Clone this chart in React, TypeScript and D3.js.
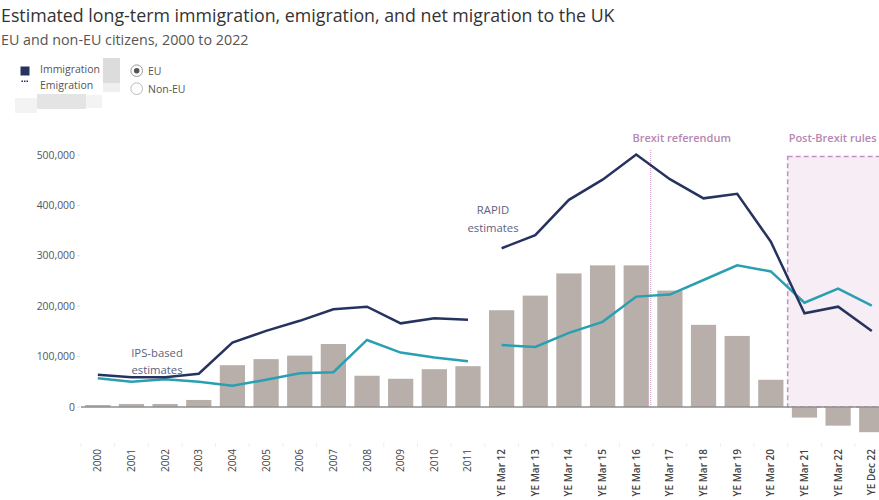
import React from "react";
import * as d3 from "d3";

const categories = [
  "2000", "2001", "2002", "2003", "2004", "2005", "2006", "2007", "2008", "2009", "2010", "2011",
  "YE Mar 12", "YE Mar 13", "YE Mar 14", "YE Mar 15", "YE Mar 16", "YE Mar 17", "YE Mar 18",
  "YE Mar 19", "YE Mar 20", "YE Mar 21", "YE Mar 22", "YE Dec 22",
];
const netMigration = [
  4000, 6000, 6000, 14000, 83000, 95000, 102000, 125000, 62000, 56000, 75000, 81000,
  192000, 221000, 265000, 281000, 281000, 231000, 163000, 141000, 54000, -21000, -37000, -50000,
];
const immigration: (number | null)[] = [
  64000, 59000, 59000, 66000, 128000, 151000, 171000, 194000, 199000, 166000, 176000, 173000,
  315000, 341000, 411000, 451000, 501000, 452000, 414000, 423000, 328000, 186000, 199000, 151000,
];
const emigration: (number | null)[] = [
  57000, 50000, 55000, 50000, 42000, 54000, 67000, 69000, 133000, 108000, 98000, 91000,
  123000, 119000, 147000, 169000, 219000, 223000, 252000, 281000, 269000, 207000, 235000, 201000,
];
const yTicks = [0, 100000, 200000, 300000, 400000, 500000];
const ipsCount = 12; // first 12 points are IPS-based, the rest RAPID

const W = 879;
const H = 500;

export default function App() {
  const x = d3
    .scaleBand<string>()
    .domain(categories)
    .range([81, 81 + 33.65 * categories.length])
    .paddingInner(0.25)
    .paddingOuter(0.125);
  const y = d3.scaleLinear().domain([0, 500000]).range([407, 155]);
  const cx = (c: string) => (x(c) as number) + x.bandwidth() / 2;

  const line = d3
    .line<[string, number | null]>()
    .defined((d) => d[1] != null)
    .x((d) => cx(d[0]))
    .y((d) => y(d[1] as number));

  const seg = (vals: (number | null)[]) => {
    const pts: [string, number | null][] = categories.map((c, i) => [c, vals[i]]);
    return [pts.slice(0, ipsCount), pts.slice(ipsCount)];
  };

  const fmt = d3.format(",");
  const font = "'Open Sans', 'Noto Sans', sans-serif";
  const step = x.step();
  const postStart = (x("YE Mar 21") as number) - (step - x.bandwidth()) / 2;
  const brexitX = cx("YE Mar 16") + 0.43 * step;

  return (
    <svg
      width={W}
      height={H}
      style={{ position: "absolute", left: 0, top: 0, background: "#fff" }}
      fontFamily={font}
    >
      {/* Title */}
      <text x={1} y={22} fontSize={17.8} fill="#333">
        Estimated long-term immigration, emigration, and net migration to the UK
      </text>
      <text x={1} y={45} fontSize={14.3} fill="#555">
        EU and non-EU citizens, 2000 to 2022
      </text>

      {/* Legend */}
      <rect x={20.5} y={66.5} width={9} height={9} fill="#27335f" />
      {[21.5, 24, 26.5].map((dx, i) => (
        <rect key={i} x={dx} y={80.5} width={1.5} height={1.5} fill="#27335f" />
      ))}
      <text x={40} y={72.5} fontSize={10.5} fill="#555">Immigration</text>
      <text x={40} y={88.5} fontSize={10.5} fill="#555">Emigration</text>
      <rect x={103} y={58} width={17} height={25} fill="#dcdcdc" />
      <rect x={103} y={83} width={17} height={9} fill="#efefef" />
      <rect x={37} y={94} width={49} height={15} fill="#e4e4e4" />
      <rect x={86} y={95} width={16} height={13} fill="#f3f3f3" />
      <rect x={15} y={98} width={22} height={15} fill="#f3f3f3" />

      <circle cx={136.7} cy={70.7} r={5.8} fill="#fff" stroke="#999" strokeWidth={1} />
      <circle cx={136.7} cy={70.7} r={2.8} fill="#555" />
      <text x={148} y={74.5} fontSize={10.5} fill="#555">EU</text>
      <circle cx={136.7} cy={88.7} r={5.8} fill="#fff" stroke="#bbb" strokeWidth={1} />
      <text x={148} y={92.5} fontSize={10.5} fill="#555">Non-EU</text>

      {/* Post-Brexit box */}
      <rect
        x={postStart}
        y={156.5}
        width={W - postStart + 20}
        height={y(0) - 156.5}
        fill="#f6eef4"
        stroke="#c592bf"
        strokeWidth={1.5}
        strokeDasharray="5,3"
      />
      <text x={postStart + 1} y={142} fontSize={11} fontWeight={600} fill="#b786b2">
        Post-Brexit rules
      </text>

      {/* Brexit referendum line */}
      <line
        x1={brexitX}
        x2={brexitX}
        y1={150}
        y2={y(0)}
        stroke="#d29fcc"
        strokeWidth={1.2}
        strokeDasharray="1,1"
      />
      <text x={brexitX + 31} y={142} textAnchor="middle" fontSize={11} fontWeight={600} fill="#b786b2">
        Brexit referendum
      </text>

      {/* Y axis */}
      {yTicks.map((t) => (
        <g key={t}>
          <text x={75} y={y(t) + 3.5} fontSize={10.4} textAnchor="end" fill="#555">
            {fmt(t)}
          </text>
          <line x1={77} x2={80} y1={y(t)} y2={y(t)} stroke="#ddd" />
        </g>
      ))}

      {/* Bars */}
      {categories.map((c, i) => {
        const v = netMigration[i];
        return (
          <rect
            key={c}
            x={x(c)}
            y={y(Math.max(0, v))}
            width={x.bandwidth()}
            height={Math.abs(y(v) - y(0))}
            fill="#b8afaa"
          />
        );
      })}

      {/* Zero line */}
      <line x1={81} x2={W} y1={y(0)} y2={y(0)} stroke="#8f8f8f" strokeWidth={1.5} />

      {/* Lines */}
      {seg(emigration).map((s, i) => (
        <path key={"e" + i} d={line(s) || ""} fill="none" stroke="#2a9fb2" strokeWidth={2.5} />
      ))}
      {seg(immigration).map((s, i) => (
        <path key={"i" + i} d={line(s) || ""} fill="none" stroke="#27335f" strokeWidth={2.5} />
      ))}

      {/* Annotations */}
      <text x={157} y={357} textAnchor="middle" fontSize={11.3} fill="#5b6382">IPS-based</text>
      <text x={157} y={374} textAnchor="middle" fontSize={11.3} fill="#5b6382">estimates</text>
      <text x={493} y={214} textAnchor="middle" fontSize={11.3} fill="#5b6382">RAPID</text>
      <text x={493} y={232} textAnchor="middle" fontSize={11.3} fill="#5b6382">estimates</text>

      {/* X axis ticks & labels */}
      {categories.map((c) => (
        <g key={c}>
          <line
            x1={(x(c) as number) - (step - x.bandwidth()) / 2}
            x2={(x(c) as number) - (step - x.bandwidth()) / 2}
            y1={443}
            y2={447}
            stroke="#eee"
          />
          <text
            transform={`translate(${cx(c) + 3.5},449) rotate(-90)`}
            textAnchor="end"
            fontSize={10}
            fontWeight={c.startsWith("YE") ? 600 : 400}
            fill="#444"
          >
            {c}
          </text>
        </g>
      ))}
    </svg>
  );
}
